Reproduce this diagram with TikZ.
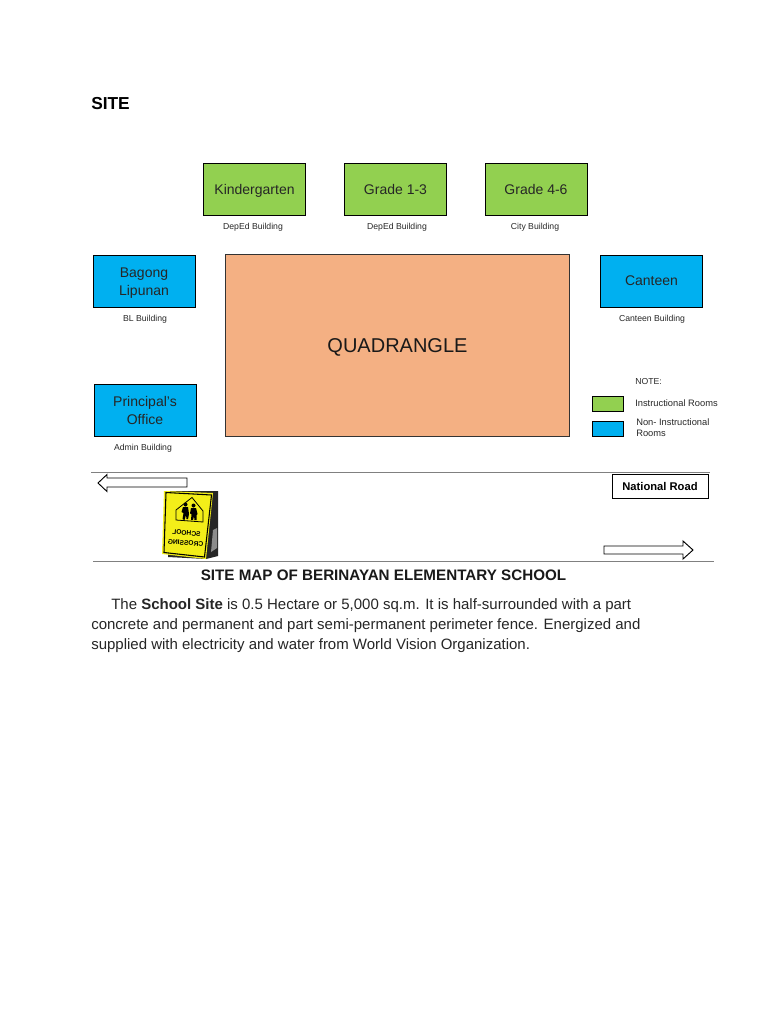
\documentclass[tikz,border=0pt]{standalone}
\usepackage{fontspec}
\setmainfont{Liberation Sans}
\definecolor{grn}{RGB}{146,208,80}
\definecolor{blu}{RGB}{0,176,240}
\definecolor{org}{RGB}{244,176,131}
\definecolor{lbl}{RGB}{40,40,40}
\definecolor{signy}{RGB}{243,238,25}
\tikzset{
 x=0.75pt,y=-0.75pt,
 room/.style={draw=black,line width=0.7pt,minimum width=76.5pt,minimum height=39pt,inner sep=0pt,align=center,font=\fontsize{10.5}{13.5}\selectfont,text=black!85},
 gr/.style={room,fill=grn},
 bl/.style={room,fill=blu},
 roomtxt/.style={inner sep=0pt,align=center,font=\fontsize{10.5}{13.5}\selectfont,text=black!85},
 caplbl/.style={font=\fontsize{6.5}{8}\selectfont,text=lbl},
 keylbl/.style={font=\fontsize{7}{8.2}\selectfont,text=lbl,anchor=west,inner sep=0pt},
 hrule/.style={draw=black!50,line width=0.6pt},
 bodyline/.style={anchor=base west,inner sep=0pt,font=\fontsize{11.25}{12}\selectfont,text=black!85},
 keybox/.style={draw=black,line width=0.9pt,minimum width=23pt,minimum height=11.5pt,inner sep=0pt},
 road/.style={draw=black,fill=white,line width=0.7pt}
}
\begin{document}
\begin{tikzpicture}
\useasboundingbox (0,0) rectangle (768,1024);
\fill[white] (0,0) rectangle (768,1024);
\node[anchor=base west,inner sep=0pt,font=\fontsize{13}{15}\selectfont\bfseries] (site) at (91,109) {SITE};
\node[gr] (k) at (254.5,189.5) {};
\node[roomtxt] (kt) at (254.5,190.5) {Kindergarten};
\node[gr] (g1) at (395.5,189.5) {Grade 1-3};
\node[gr] (g4) at (536,189.5) {Grade 4-6};
\node[caplbl] (k1) at (253,227) {DepEd Building};
\node[caplbl] (g1l) at (397,227) {DepEd Building};
\node[caplbl] (g4l) at (535,227) {City Building};
\node[bl] (b) at (144,281) {};
\node[roomtxt] (bt) at (144,283) {Bagong\\Lipunan};
\node[caplbl] (bll) at (145,319) {BL Building};
\node[bl] (p) at (145,410.5) {Principal’s\\Office};
\node[caplbl] (pl) at (143,448) {Admin Building};
\node[bl] (c) at (651.5,281) {Canteen};
\node[caplbl] (cl) at (652,319) {Canteen Building};
\node[draw=black!80,line width=0.6pt,fill=org,minimum width=258.5pt,minimum height=137pt,inner sep=0pt] (q) at (397.5,345.5) {};
\node[inner sep=0pt,font=\fontsize{15}{18}\selectfont,text=black!90] (qt) at (397.5,347) {QUADRANGLE};
\node[caplbl,anchor=west,inner sep=0pt] (note) at (635,381.5) {NOTE:};
\node[keybox,fill=grn] (kg) at (608,404) {};
\node[keybox,fill=blu] (kb) at (608,429) {};
\node[keylbl] (kgt) at (635,403) {Instructional Rooms};
\node[keylbl,align=left] (kbt) at (636,428) {Non- Instructional\\Rooms};
\draw[hrule] (91,472.5) -- (710,472.5);
\draw[hrule] (93,561) -- (714,561);
\node[draw=black,line width=0.6pt,minimum width=72pt,minimum height=17.5pt,inner sep=0pt,font=\fontsize{8.4}{10}\selectfont\bfseries] (nr) at (660,486.5) {National Road\hspace{3pt}};
\draw[road] (187,478) -- (107,478) -- (107,474.5) -- (98,483) -- (107,491.5) -- (107,487) -- (187,487) -- cycle;
\draw[road] (604,546) -- (683,546) -- (683,541) -- (693,550) -- (683,559) -- (683,554) -- (604,554) -- cycle;
% sign
\fill[black!85] (170,491) -- (218,491) -- (218,556) -- (206,559) -- (168,557) -- cycle;
\fill[black!45] (213,530) -- (217,528) -- (217,548) -- (211,552) -- cycle;
\fill[signy] (164,491) -- (213,493) -- (206,559) -- (162,554) -- cycle;
\draw[black,line width=0.8pt] (166,492.5) -- (211.5,495) -- (204.5,557) -- (164,552.5) -- cycle;
\draw[black,line width=0.6pt] (176,510) -- (192,497.5) -- (203,511) -- (203,522) -- (176,520) -- cycle;
\fill[black] (185.5,504.5) circle (2) (193.5,505.5) circle (2);
\fill[black] (183,507) -- (188,507) -- (189,514) -- (188,519) -- (186.5,519) -- (186,515) -- (184.5,520) -- (182.5,519) -- (183.5,513) -- (181.5,512) -- cycle;
\fill[black] (191,508) -- (196,508) -- (197.5,514) -- (196.5,515) -- (196.5,520) -- (194.5,520) -- (194,516) -- (193,520) -- (191,520) -- (191.5,514) -- (190,513.5) -- cycle;
\node[inner sep=0pt,xscale=-1,rotate=5,font=\fontsize{5}{7.5}\selectfont\bfseries,align=center] (st) at (186,538) {SCHOOL\\CROSSING};
\node[anchor=base,inner sep=0pt,font=\fontsize{11.4}{13}\selectfont\bfseries,text=black!90] (capt) at (383.5,580) {SITE MAP OF BERINAYAN ELEMENTARY SCHOOL};
\node[bodyline] (l1) at (111,609) {The \textbf{School Site} is 0.5 Hectare or 5,000 sq.m. It is half-surrounded with a part};
\node[bodyline] (l2) at (91,629) {concrete and permanent and part semi-permanent perimeter fence. Energized and};
\node[bodyline] (l3) at (91,649) {supplied with electricity and water from World Vision Organization.};
\end{tikzpicture}
\end{document}
